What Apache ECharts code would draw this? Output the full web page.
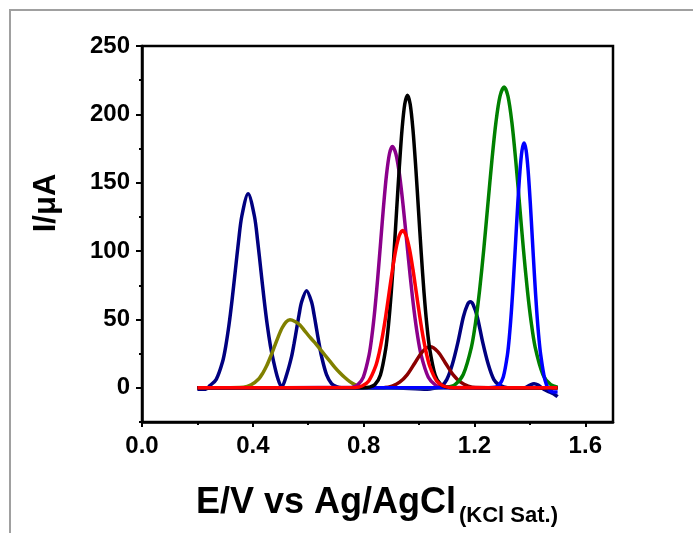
<!DOCTYPE html>
<html>
<head>
<meta charset="utf-8">
<script src="https://cdn.jsdelivr.net/npm/echarts@6/dist/echarts.min.js"></script>
<style>html,body{margin:0;padding:0;background:#fff}#c{width:693px;height:533px}</style>
</head>
<body>
<div id="c"></div>
<script>
// x-axis ticks and y-axis ticks
const xMajorTicks = [0, 0.4, 0.8, 1.2, 1.6];
const yMajorTicks = [0, 50, 100, 150, 200, 250];
const yMinorTicks = [-25, 25, 75, 125, 175, 225];

// series data as [E (V), I (uA)]
const navy = [[0.20,-1],[0.23,-1],[0.245,1.6],[0.268,6.2],[0.291,19.2],[0.3025,30.7],[0.314,46.1],[0.3255,65],[0.337,86.1],[0.3485,107.2],[0.36,125.3],[0.383,142],[0.406,125.3],[0.4175,107.2],[0.429,86.1],[0.4405,65],[0.452,46.1],[0.4635,30.7],[0.475,19.2],[0.49,7],[0.504,0.5],[0.522,9.6],[0.54,23],[0.549,32.5],[0.558,43],[0.567,53.6],[0.576,62.7],[0.594,71],[0.612,62.7],[0.621,53.6],[0.63,43],[0.639,32.5],[0.648,23],[0.666,9.6],[0.684,3.1],[0.702,0.8],[0.72,0],[0.9,0],[1.03,-1],[1.06,0],[1.08,1],[1.10,6],[1.12,17],[1.14,33],[1.16,52],[1.175,61],[1.185,63],[1.195,61],[1.21,52],[1.23,33],[1.25,17],[1.27,6],[1.29,2],[1.32,0],[1.38,0],[1.40,2],[1.415,3],[1.43,2],[1.45,-1],[1.47,-3],[1.49,-5],[1.50,-6.5]];
const olive = [[0.20,0],[0.366,0.5],[0.394,2.2],[0.422,6.7],[0.436,10.8],[0.45,16.1],[0.464,22.8],[0.478,30.1],[0.492,37.5],[0.506,43.9],[0.52,48.2],[0.534,49.7],[0.552,48.5],[0.570,46],[0.588,41.5],[0.606,37],[0.624,33],[0.642,28.5],[0.660,24],[0.678,19.5],[0.696,15],[0.714,11],[0.732,7.5],[0.750,4.5],[0.768,2.3],[0.786,1],[0.82,0.3],[1.50,0]];
const purple = [[0.20,0],[0.7565,0.4],[0.7775,2],[0.7985,7.7],[0.8195,23.9],[0.83,38.2],[0.8405,57.3],[0.851,80.8],[0.8615,107],[0.872,133.2],[0.8825,155.8],[0.893,171],[0.9035,176.5],[0.9165,171],[0.9295,155.8],[0.9425,133.2],[0.9555,107],[0.9685,80.8],[0.9815,57.3],[0.9945,38.2],[1.0075,23.9],[1.0335,7.7],[1.0595,2],[1.0855,0.4],[1.50,0]];
const maroon = [[0.20,0],[0.875,0.3],[0.9025,1.3],[0.93,4.1],[0.9575,9.7],[0.985,18.2],[1.0125,26.5],[1.04,30],[1.0675,26.5],[1.095,18.2],[1.1225,9.7],[1.15,4.1],[1.1775,1.3],[1.205,0.3],[1.50,0]];
const green = [[0.20,0],[1.07,0.2],[1.1005,0.5],[1.13,2.4],[1.1595,9.7],[1.189,29.8],[1.2038,47.6],[1.2185,71.4],[1.2333,100.7],[1.248,133.4],[1.2628,166.1],[1.2775,194.2],[1.292,213.2],[1.307,220],[1.321,213.2],[1.335,194.2],[1.349,166.1],[1.363,133.4],[1.377,100.7],[1.391,71.4],[1.405,47.6],[1.419,29.8],[1.447,9.7],[1.475,2.4],[1.50,0.5]];
const blue = [[0.20,0],[1.25,0],[1.274,0.4],[1.289,2],[1.304,7.9],[1.319,24.2],[1.3265,38.7],[1.334,58.1],[1.3415,82],[1.349,108.6],[1.3565,135.1],[1.364,158],[1.3715,173.5],[1.379,179],[1.3865,173.5],[1.394,158],[1.4015,135.1],[1.409,108.6],[1.4165,82],[1.424,58.1],[1.4315,38.7],[1.439,24.2],[1.454,6],[1.468,-1],[1.485,-3],[1.50,-3]];
const black = [[0.20,0],[0.798,0],[0.8215,0.5],[0.841,2.4],[0.8605,9.4],[0.88,29],[0.8898,46.3],[0.8995,69.5],[0.9093,98],[0.919,129.8],[0.9288,161.5],[0.9385,188.9],[0.9483,207.4],[0.958,214],[0.968,207.4],[0.978,188.9],[0.988,161.5],[0.998,129.8],[1.008,98],[1.018,69.5],[1.028,46.3],[1.038,29],[1.058,9.4],[1.078,2.4],[1.098,0.5],[1.13,0],[1.50,0]];
const red = [[0.20,0],[0.7695,0.25],[0.794,1.3],[0.8185,5],[0.843,15.6],[0.8553,24.9],[0.8675,37.3],[0.8798,52.6],[0.892,69.7],[0.9043,86.8],[0.9165,101.5],[0.9288,111.4],[0.941,115],[0.9533,111.4],[0.9655,101.5],[0.9778,86.8],[0.99,69.7],[1.0023,52.6],[1.0145,37.3],[1.0268,24.9],[1.039,15.6],[1.0635,5],[1.088,1.3],[1.1125,0.25],[1.14,0],[1.50,0]];

const seriesDefs = [
  {name:'navy', data:navy, color:'#000080'},
  {name:'olive', data:olive, color:'#808000'},
  {name:'purple', data:purple, color:'#8B008B'},
  {name:'maroon', data:maroon, color:'#8B0000'},
  {name:'green', data:green, color:'#008000'},
  {name:'blue', data:blue, color:'#0000FF'},
  {name:'black', data:black, color:'#000000'},
  {name:'red', data:red, color:'#FF0000'}
];

const FONT = '"Liberation Sans", Arial, sans-serif';
const chart = echarts.init(document.getElementById('c'), null, {renderer:'canvas'});
chart.setOption({
  backgroundColor: '#ffffff',
  animation: false,
  grid: {left:142, right:80, top:46, bottom:111, show:true, borderColor:'#000', borderWidth:2.5, backgroundColor:'transparent'},
  xAxis: {
    type:'value', min:0, max:1.7, interval:0.4,
    axisLine:{show:true, onZero:false, lineStyle:{color:'#000', width:2.5}},
    axisTick:{show:true, inside:false, length:5, lineStyle:{color:'#000', width:2}, customValues: xMajorTicks},
    minorTick:{show:true, splitNumber:2, length:3, lineStyle:{color:'#000', width:2}},
    splitLine:{show:false},
    axisLabel:{customValues: xMajorTicks, margin:12, color:'#000', fontSize:24, fontWeight:'bold', fontFamily:FONT, formatter:v=>v.toFixed(1)}
  },
  yAxis: [{
    type:'value', min:-25, max:250,
    axisLine:{show:true, onZero:false, lineStyle:{color:'#000', width:2.5}},
    axisTick:{show:true, inside:false, length:6, lineStyle:{color:'#000', width:2}, customValues: yMajorTicks},
    splitLine:{show:false},
    axisLabel:{customValues: yMajorTicks, margin:12, color:'#000', fontSize:24, fontWeight:'bold', fontFamily:FONT}
  },{
    type:'value', min:-25, max:250, position:'left',
    axisLine:{show:false},
    axisTick:{show:true, inside:false, length:3, lineStyle:{color:'#000', width:2}, customValues: yMinorTicks},
    splitLine:{show:false},
    axisLabel:{show:false}
  }],
  series: seriesDefs.map(s => ({
    name:s.name, type:'line', data:s.data, showSymbol:false, symbol:'none',
    smooth:0.3, lineStyle:{color:s.color, width:3.5}, itemStyle:{color:s.color}, clip:true
  })),
  graphic: [
    {type:'rect', shape:{x:10, y:10, width:720, height:560}, style:{fill:'transparent', stroke:'#a0a0a0', lineWidth:2}, silent:true, z:-10},
    {type:'text', x:46, y:203, rotation:Math.PI/2, style:{text:'I/μA', fill:'#000', font:'bold 31px '+FONT, textAlign:'center', textVerticalAlign:'middle'}},
    {type:'text', x:196, y:503, style:{text:'E/V vs Ag/AgCl', fill:'#000', font:'bold 36px '+FONT, textAlign:'left', textVerticalAlign:'middle'}},
    {type:'text', x:459, y:516, style:{text:'(KCl Sat.)', fill:'#000', font:'bold 22px '+FONT, textAlign:'left', textVerticalAlign:'middle'}}
  ]
});
</script>
</body>
</html>
